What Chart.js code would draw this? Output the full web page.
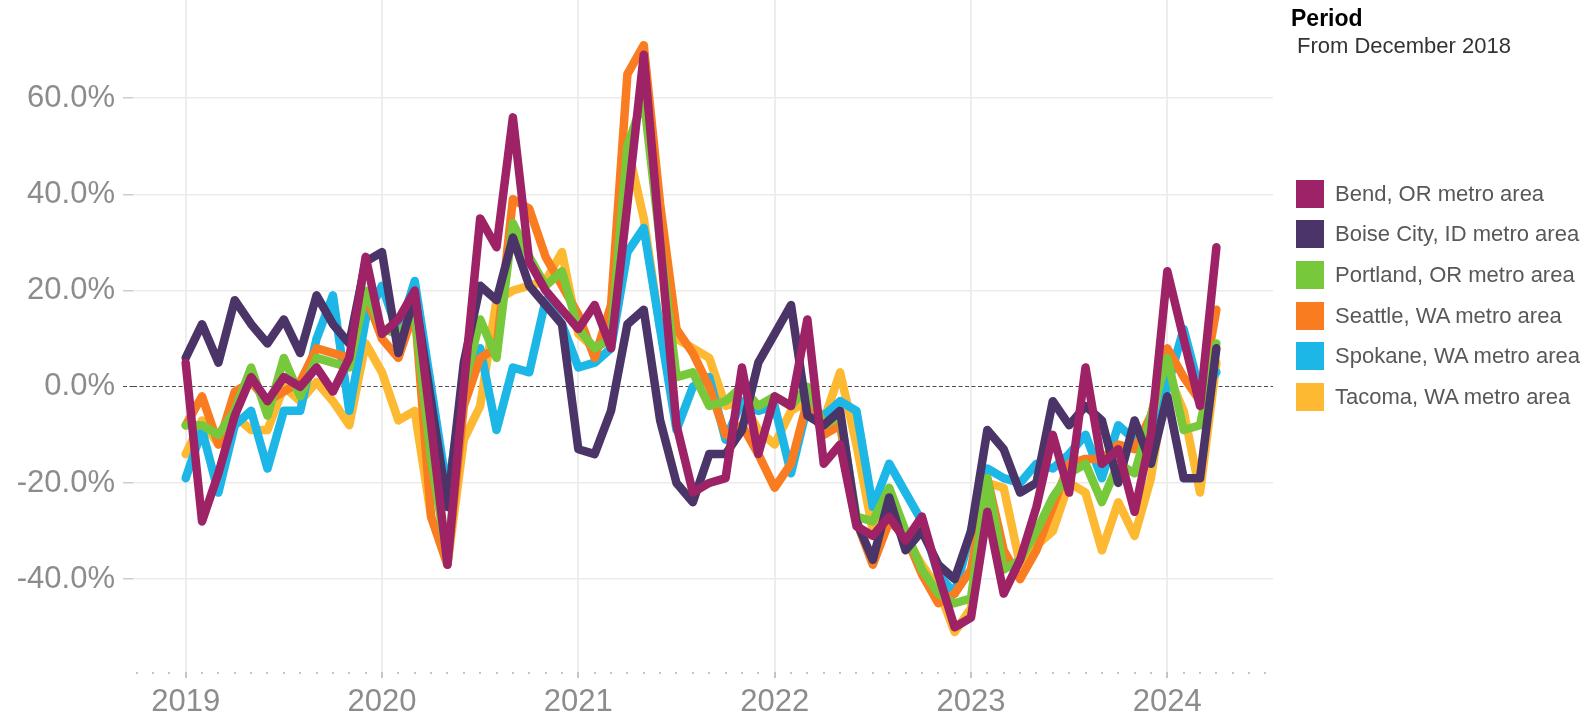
<!DOCTYPE html>
<html>
<head>
<meta charset="utf-8">
<script src="https://cdn.jsdelivr.net/npm/chart.js@4.4.1/dist/chart.umd.min.js"></script>
<style>
  body { margin: 0; background: #fff; font-family: 'Liberation Sans', Arial, sans-serif; }
  #wrap { position: relative; width: 1596px; height: 720px; overflow: hidden; }
  #chart { position: absolute; left: 0; top: 0; }
  .legend-title { position: absolute; left: 1291px; top: 7px; font-weight: bold; font-size: 23px; line-height: 23px; color: #000; }
  .legend-sub { position: absolute; left: 1297px; top: 35px; font-size: 22px; line-height: 22px; color: #333; white-space: nowrap; }
  .item { position: absolute; left: 1296px; height: 28px; display: flex; align-items: center; white-space: nowrap; }
  .swatch { width: 28px; height: 28px; margin-right: 11px; }
  .item span { font-size: 22px; color: #585858; }
</style>
</head>
<body>
<div id="wrap">
  <canvas id="chart" width="1596" height="720"></canvas>
  <div class="legend-title">Period</div>
  <div class="legend-sub">From December 2018</div>
  <div id="legend"></div>
</div>
<script>
// monthly values, Jan 2019 .. Apr 2024
const yearLabels = ['2019', '2020', '2021', '2022', '2023', '2024'];
const yTicks = [-40, -20, 0, 20, 40, 60];

const seriesNames = [
    'Bend, OR metro area',
    'Boise City, ID metro area',
    'Portland, OR metro area',
    'Seattle, WA metro area',
    'Spokane, WA metro area',
    'Tacoma, WA metro area'
];
const seriesColors = ['#9e2266', '#4a3468', '#78c83b', '#f97d20', '#1cb6e7', '#fdb931'];

const bend = [5, -28, -18, -6, 2, -3, 2, 0, 4, -1, 6, 27, 11, 14, 20, -8, -37, 0, 35, 29,
    56, 26, 20, 16, 12, 17, 8, 38, 69, 30, -8, -22, -20, -19, 4, -14, -2, -4, 14, -16,
    -12, -29, -31, -27, -32, -27, -39, -50, -48, -26, -43, -36, -25, -10, -22, 4, -16, -13, -26, -10,
    24, 10, -4, 29];
const boise = [6, 13, 5, 18, 13, 9, 14, 7, 19, 13, 9, 26, 28, 7, 19, -3, -25, 5, 21, 18,
    31, 21, 17, 13, -13, -14, -5, 13, 16, -7, -20, -24, -14, -14, -9, 5, 11, 17, -6, -8,
    -5, -28, -36, -23, -34, -30, -37, -40, -30, -9, -13, -22, -20, -3, -8, -4, -7, -20, -7, -16,
    -2, -19, -19, 8];
const portland = [-8, -8, -10, -5, 4, -6, 6, -2, 6, 5, 4, 20, 12, 11, 15, -15, -36, 0, 14, 6,
    34, 27, 21, 24, 12, 8, 10, 50, 60, 30, 2, 3, -4, -3, 0, -4, -2, -4, 0, -8,
    -6, -27, -28, -21, -30, -38, -43, -45, -44, -19, -38, -36, -30, -23, -18, -16, -24, -16, -18, -6,
    6, -9, -8, 9];
const seattle = [-8, -2, -12, -1, 1, -3, -1, 1, 8, 7, 6, 19, 10, 6, 16, -27, -37, -4, 6, 8,
    39, 37, 27, 21, 15, 6, 17, 65, 71, 38, 12, 7, 0, -10, -8, -14, -21, -16, -3, -10,
    -8, -28, -37, -28, -31, -39, -45, -43, -38, -19, -34, -40, -34, -25, -16, -15, -15, -12, -13, -6,
    8, 2, -3, 16];
const spokane = [-19, -9, -22, -8, -5, -17, -5, -5, 10, 19, -5, 14, 21, 11, 22, 0, -22, 0, 8, -9,
    4, 3, 18, 13, 4, 5, 8, 28, 33, 12, -9, 0, 2, -11, -3, -5, -4, -18, -4, -6,
    -3, -5, -25, -16, -22, -28, -39, -43, -30, -17, -19, -20, -16, -17, -14, -10, -19, -8, -11, -16,
    0, 12, -1, 3];
const tacoma = [-14, -7, -12, -6, -9, -9, 0, -3, 1, -3, -8, 9, 3, -7, -5, -27, -37, -11, -4, 18,
    20, 21, 22, 28, 11, 8, 10, 50, 35, 12, 10, 8, 6, -4, -3, -9, -12, -5, -3, -7,
    3, -12, -30, -26, -31, -37, -42, -51, -46, -20, -21, -37, -33, -30, -20, -22, -34, -24, -31, -19,
    3, -5, -22, 5];

const seriesValues = [bend, boise, portland, seattle, spokane, tacoma];

Chart.defaults.font.family = "'Liberation Sans', Arial, sans-serif";

// month index 0 = Jan 2019
const datasets = seriesNames.map((name, k) => ({
    label: name,
    data: seriesValues[k].map((v, i) => ({ x: i, y: v })),
    borderColor: seriesColors[k],
    backgroundColor: seriesColors[k],
    borderWidth: 8.5,
    pointRadius: 0,
    borderJoinStyle: 'round',
    borderCapStyle: 'round',
    tension: 0,
    fill: false
}));

const isYear = v => v % 12 === 0;
const isZero = c => c.tick && c.tick.value === 0;

new Chart(document.getElementById('chart').getContext('2d'), {
    type: 'line',
    data: { datasets: datasets },
    options: {
        responsive: false,
        animation: false,
        devicePixelRatio: 1,
        layout: { padding: { left: 0, right: 323, top: 0, bottom: 0 } },
        plugins: {
            legend: { display: false },
            tooltip: { enabled: false }
        },
        scales: {
            x: {
                type: 'linear',
                min: -3.22,
                max: 66.46,
                afterBuildTicks: scale => {
                    const t = [];
                    for (let m = -3; m <= 66; m++) t.push({ value: m });
                    scale.ticks = t;
                },
                afterFit: scale => {
                    scale.height = 48;
                    scale.paddingLeft = 0;
                    scale.paddingRight = 0;
                },
                border: { display: false },
                grid: {
                    color: c => (c.tick && isYear(c.tick.value) ? '#ededed' : 'rgba(0,0,0,0)'),
                    lineWidth: 2,
                    tickLength: 6,
                    tickColor: '#c4c4c4',
                    tickWidth: 2,
                    tickBorderDash: c => (c.tick && isYear(c.tick.value) ? [] : [2, 20])
                },
                ticks: {
                    autoSkip: false,
                    maxRotation: 0,
                    padding: 6,
                    color: '#8c8c8c',
                    font: { size: 31 },
                    callback: v => (isYear(v) && v >= 0 ? yearLabels[v / 12] : '')
                }
            },
            y: {
                min: -59.3,
                max: 80.4,
                afterBuildTicks: scale => {
                    scale.ticks = yTicks.map(v => ({ value: v }));
                },
                afterFit: scale => {
                    scale.width = 133;
                    scale.paddingTop = 0;
                    scale.paddingBottom = 0;
                },
                // dash here applies to the grid lines in v4
                border: {
                    display: false,
                    dash: c => (isZero(c) ? [4, 2.5] : []),
                },
                grid: {
                    color: c => (isZero(c) ? '#4d4d4d' : '#ebebeb'),
                    lineWidth: c => (isZero(c) ? 1 : 1.5),
                    tickLength: 10,
                    tickColor: c => (isZero(c) ? '#4d4d4d' : '#cccccc'),
                    tickBorderDash: c => (isZero(c) ? [4, 2.5] : [])
                },
                ticks: {
                    padding: 8,
                    color: '#8c8c8c',
                    font: { size: 31 },
                    callback: v => v.toFixed(1) + '%'
                }
            }
        }
    }
});

// legend built from the same series lists
const legend = document.getElementById('legend');
seriesNames.forEach((name, k) => {
    const row = document.createElement('div');
    row.className = 'item';
    row.style.top = (179.5 + k * 40.7) + 'px';
    const sw = document.createElement('div');
    sw.className = 'swatch';
    sw.style.background = seriesColors[k];
    const label = document.createElement('span');
    label.textContent = name;
    row.appendChild(sw);
    row.appendChild(label);
    legend.appendChild(row);
});
</script>
</body>
</html>
